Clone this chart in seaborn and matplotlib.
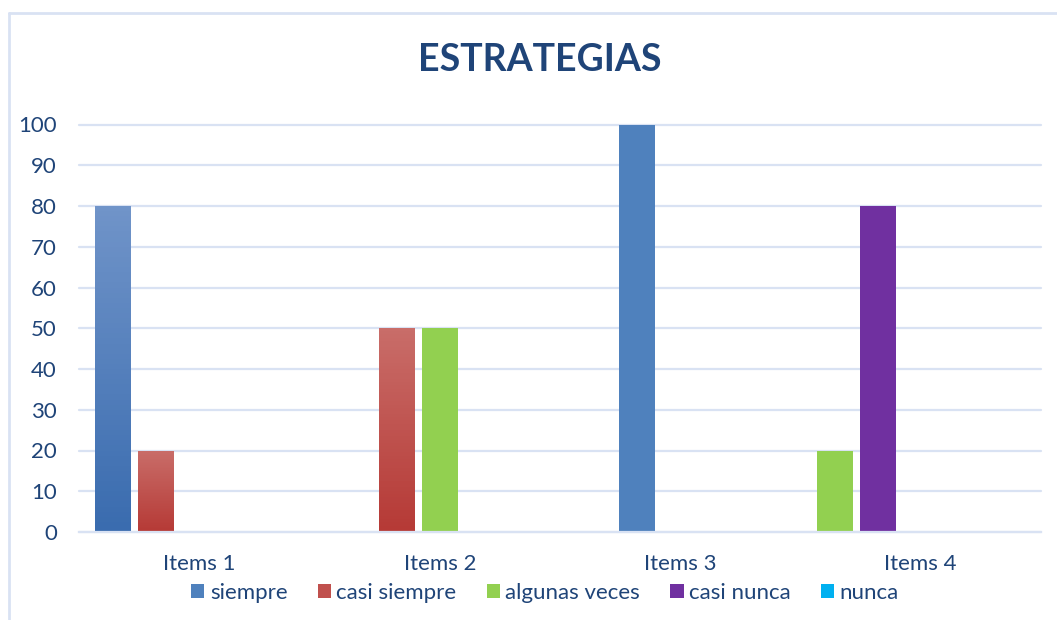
import matplotlib.pyplot as plt
import numpy as np
import pandas as pd
import seaborn as sns
from matplotlib.colors import LinearSegmentedColormap
from matplotlib.lines import Line2D
from matplotlib.patches import Patch

items = ["Items 1", "Items 2", "Items 3", "Items 4"]
series = ["siempre", "casi siempre", "algunas veces", "casi nunca", "nunca"]
slots = ["s1", "s2", "s3", "s4", "s5"]

# which series sits in each of the five bar slots of an item ("" = empty slot)
slot_series = [
    ["siempre", "casi siempre", "", "", ""],
    ["", "casi siempre", "algunas veces", "", ""],
    ["", "siempre", "", "", ""],
    ["algunas veces", "casi nunca", "", "", ""],
]
slot_values = [
    [80, 20, 0, 0, 0],
    [0, 50, 50, 0, 0],
    [0, 100, 0, 0, 0],
    [20, 80, 0, 0, 0],
]

colors = {
    "siempre": "#4F81BD",
    "casi siempre": "#C0504D",
    "algunas veces": "#92D050",
    "casi nunca": "#7030A0",
    "nunca": "#00B0F0",
}
# bars drawn with a vertical gradient (top colour, bottom colour)
gradients = {
    (0, 0): ("#7094C9", "#3A6CAF"),
    (0, 1): ("#C96D69", "#B63A36"),
    (1, 1): ("#C96D69", "#B63A36"),
}

text_color = "#1F4478"
grid_color = "#D9E2F3"

rows = []
for i, item in enumerate(items):
    for j, slot in enumerate(slots):
        rows.append([item, slot, slot_series[i][j], slot_values[i][j]])
df = pd.DataFrame(rows, columns=["item", "slot", "series", "value"])

sns.set_theme(style="white")
plt.rcParams["font.family"] = ["Lato", "DejaVu Sans"]

W, H = 1057, 620
fig = plt.figure(figsize=(W / 100, H / 100), dpi=100)
ax = fig.add_axes([79 / W, 1 - 532 / H, (1041 - 79) / W, (532 - 124.5) / H])

group_width = 0.894
sns.barplot(
    data=df, x="item", y="value", hue="slot", hue_order=slots, order=items,
    width=group_width, gap=0.163, dodge=True, legend=False, ax=ax,
    errorbar=None, saturation=1,
)

pitch = group_width / len(slots)
for p in list(ax.patches):
    cx = p.get_x() + p.get_width() / 2
    i = int(round(cx))
    j = int(round((cx - i) / pitch + 2))
    p.set_linewidth(0)
    name = slot_series[i][j]
    if not name or p.get_height() == 0:
        p.set_visible(False)
        continue
    p.set_facecolor(colors[name])
    if (i, j) in gradients:
        top, bottom = gradients[(i, j)]
        cmap = LinearSegmentedColormap.from_list("g", [bottom, top])
        p.set_facecolor("none")
        grad = np.linspace(0, 1, 64).reshape(-1, 1)
        im = ax.imshow(
            grad, cmap=cmap, aspect="auto", origin="lower",
            extent=[p.get_x(), p.get_x() + p.get_width(), 0, p.get_height()],
            zorder=p.get_zorder(),
        )
        im.set_clip_path(p)

ax.set_xlim(-0.5, len(items) - 0.5)
ax.set_ylim(0, 100)
ax.set_yticks(range(0, 101, 10))
ax.set_xlabel("")
ax.set_ylabel("")
ax.yaxis.grid(True, color=grid_color, lw=1.6)
ax.set_axisbelow(True)
for line in ax.get_ygridlines():
    line.set_clip_on(False)
for s in ["top", "right", "left"]:
    ax.spines[s].set_visible(False)
ax.spines["bottom"].set_color(grid_color)
ax.spines["bottom"].set_linewidth(1.6)
ax.tick_params(axis="both", length=0, labelsize=16, labelcolor=text_color)
ax.tick_params(axis="y", pad=16)
ax.tick_params(axis="x", pad=16)

fig.text(540 / W, 1 - 60 / H, "ESTRATEGIAS", ha="center", va="center",
         fontsize=27, fontweight="bold", color=text_color)

handles = [Patch(facecolor=colors[s], edgecolor="none") for s in series]
fig.legend(
    handles, series, loc="center", bbox_to_anchor=(545 / W, 1 - 593 / H),
    ncol=5, frameon=False, fontsize=16, labelcolor=text_color,
    handlelength=0.6, handleheight=0.6, handletextpad=0.25, columnspacing=1.35,
)

# outer chart frame (only top and left edges are visible in the crop)
fig.add_artist(Line2D([9 / W, 9 / W], [0, 1 - 13 / H], transform=fig.transFigure,
                      color=grid_color, lw=2))
fig.add_artist(Line2D([9 / W, 1], [1 - 13 / H, 1 - 13 / H], transform=fig.transFigure,
                      color=grid_color, lw=2))

fig.savefig("out.png", dpi=100)
